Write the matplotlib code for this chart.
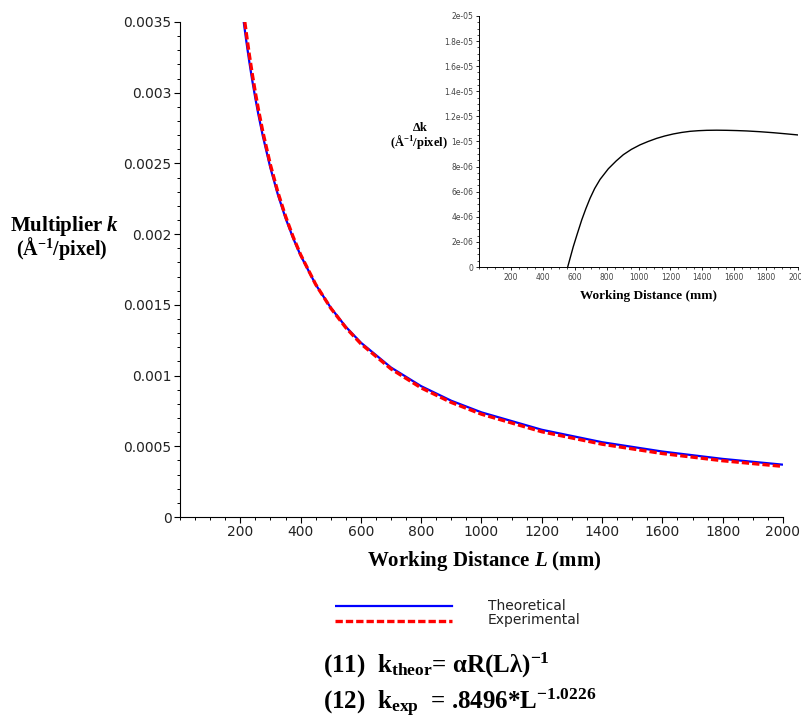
import numpy as np
import matplotlib
matplotlib.use('Agg')
import matplotlib.pyplot as plt
from matplotlib.ticker import FixedLocator, MultipleLocator, FixedFormatter

# ─── Data ───
# main plot: multiplier k vs working distance L (mm)
L_theor = [211, 220, 230, 240, 250, 260, 275, 300, 325, 350, 375, 400, 450, 500,
           550, 600, 700, 800, 900, 1000, 1200, 1400, 1600, 1800, 2000]
k_theor = [0.003507, 0.003364, 0.003217, 0.003083, 0.00296, 0.002846, 0.002691,
           0.002467, 0.002277, 0.002114, 0.001973, 0.00185, 0.001644, 0.00148,
           0.001345, 0.001233, 0.001057, 0.000925, 0.000822, 0.00074, 0.000617,
           0.000529, 0.000463, 0.000411, 0.00037]
L_exp = [215, 220, 230, 240, 250, 260, 275, 300, 325, 350, 375, 400, 450, 500,
         550, 600, 700, 800, 900, 1000, 1200, 1400, 1600, 1800, 2000]
k_exp = [0.0035, 0.003419, 0.003267, 0.003128, 0.003, 0.002882, 0.002721,
         0.002489, 0.002294, 0.002127, 0.001982, 0.001855, 0.001645, 0.001477,
         0.001339, 0.001225, 0.001047, 0.000913, 0.00081, 0.000727, 0.000603,
         0.000515, 0.000449, 0.000398, 0.000358]

# inset: delta k vs working distance
L_dk = [556, 575, 591, 615, 644, 670, 696, 725, 759, 811, 860, 905, 955, 1009,
        1060, 1114, 1165, 1218, 1270, 1323, 1375, 1428, 1490, 1553, 1615, 1678,
        1760, 1845, 1925, 2000]
dk = [0.0, 0.88e-6, 1.62e-6, 2.6e-6, 3.75e-6, 4.65e-6, 5.47e-6, 6.25e-6, 6.98e-6,
      7.83e-6, 8.45e-6, 8.95e-6, 9.37e-6, 9.73e-6, 10.0e-6, 10.25e-6, 10.44e-6,
      10.6e-6, 10.72e-6, 10.81e-6, 10.86e-6, 10.89e-6, 10.9e-6, 10.89e-6,
      10.87e-6, 10.84e-6, 10.78e-6, 10.7e-6, 10.61e-6, 10.52e-6]

main_yticks = [0, 0.0005, 0.001, 0.0015, 0.002, 0.0025, 0.003, 0.0035]
main_ylabels = ['0', '0.0005', '0.001', '0.0015', '0.002', '0.0025', '0.003', '0.0035']
main_xticks = [200, 400, 600, 800, 1000, 1200, 1400, 1600, 1800, 2000]
inset_yticks = [0, 2e-6, 4e-6, 6e-6, 8e-6, 1e-5, 1.2e-5, 1.4e-5, 1.6e-5, 1.8e-5, 2e-5]
inset_ylabels = ['0', '2e-06', '4e-06', '6e-06', '8e-06', '1e-05', '1.2e-05',
                 '1.4e-05', '1.6e-05', '1.8e-05', '2e-05']

TICKFONT = 'DejaVu Sans'
plt.rcParams['mathtext.fontset'] = 'custom'
plt.rcParams['mathtext.rm'] = 'Liberation Serif:bold'
plt.rcParams['mathtext.it'] = 'Liberation Serif:italic:bold'
plt.rcParams['mathtext.bf'] = 'Liberation Serif:bold'
SERIF = 'Liberation Serif'

fig = plt.figure(figsize=(8.01, 7.23), dpi=100)

# ─── Main axes ───
ax = fig.add_axes([0.2247, 0.2849, 0.7528, 0.6847])
ax.plot(L_theor, k_theor, color='#0000ff', lw=1.6, solid_capstyle='butt')
ax.plot(L_exp, k_exp, color='#ff0000', lw=2.4, ls=(0, (2.2, 0.9)))
ax.set_xlim(0, 2000)
ax.set_ylim(0, 0.0035)
for s in ['top', 'right']:
    ax.spines[s].set_visible(False)
ax.yaxis.set_major_locator(FixedLocator(main_yticks))
ax.yaxis.set_major_formatter(FixedFormatter(main_ylabels))
ax.yaxis.set_minor_locator(MultipleLocator(0.0001))
ax.xaxis.set_major_locator(FixedLocator(main_xticks))
ax.xaxis.set_minor_locator(MultipleLocator(50))
ax.tick_params(which='major', length=4, width=0.8, labelsize=10, pad=2,
               labelcolor='#222222')
ax.tick_params(which='minor', length=2.5, width=0.7)
for lab in ax.get_xticklabels() + ax.get_yticklabels():
    lab.set_family(TICKFONT)

fig.text(0.605, 1 - 561 / 723, 'Working Distance $\\mathit{L}$ (mm)',
         ha='center', va='center', fontsize=15, family=SERIF, weight='bold')
fig.text(65 / 801, 1 - 226 / 723, 'Multiplier $\\mathit{k}$',
         ha='center', va='center', fontsize=15, family=SERIF, weight='bold')
fig.text(62 / 801, 1 - 249 / 723, '(Å$^{-1}$/pixel)',
         ha='center', va='center', fontsize=14.5, family=SERIF, weight='bold')

# ─── Inset ───
ins = fig.add_axes([0.598, 0.6307, 0.3983, 0.3472])
ins.plot(L_dk, dk, color='black', lw=1.0)
ins.set_xlim(0, 2000)
ins.set_ylim(0, 2e-5)
for s in ['top', 'right']:
    ins.spines[s].set_visible(False)
ins.patch.set_alpha(0)
ins.yaxis.set_major_locator(FixedLocator(inset_yticks))
ins.yaxis.set_major_formatter(FixedFormatter(inset_ylabels))
ins.yaxis.set_minor_locator(MultipleLocator(5e-7))
ins.xaxis.set_major_locator(FixedLocator(main_xticks))
ins.xaxis.set_minor_locator(MultipleLocator(50))
ins.tick_params(which='major', length=2.5, width=0.6, labelsize=5.5, pad=1.5,
                labelcolor='#444444')
ins.tick_params(which='minor', length=1.5, width=0.5)
for s in ['left', 'bottom']:
    ins.spines[s].set_linewidth(0.7)
for lab in ins.get_xticklabels() + ins.get_yticklabels():
    lab.set_family(TICKFONT)

fig.text(648 / 801, 1 - 296 / 723, 'Working Distance (mm)',
         ha='center', va='center', fontsize=9.5, family=SERIF, weight='bold')
fig.text(420 / 801, 1 - 128 / 723, 'Δk',
         ha='center', va='center', fontsize=9, family=SERIF, weight='bold')
fig.text(419 / 801, 1 - 142 / 723, '(Å$^{-1}$/pixel)',
         ha='center', va='center', fontsize=9, family=SERIF, weight='bold')

# ─── Legend (drawn below the plot) ───
leg = fig.add_axes([335 / 801, 1 - 628 / 723, 120 / 801, 30 / 723])
leg.set_xlim(0, 1)
leg.set_ylim(0, 1)
leg.axis('off')
leg.plot([0.0, 0.975], [0.73, 0.73], color='#0000ff', lw=1.6)
leg.plot([0.0, 0.975], [0.23, 0.23], color='#ff0000', lw=2.4, ls=(0, (2.2, 0.9)))
fig.text(488 / 801, 1 - 606 / 723, 'Theoretical', ha='left', va='center',
         fontsize=10, family=TICKFONT, color='#222222')
fig.text(488 / 801, 1 - 620 / 723, 'Experimental', ha='left', va='center',
         fontsize=10, family=TICKFONT, color='#222222')

# ─── Equations ───
fig.text(323 / 801, 1 - 673 / 723,
         '(11)  k$_{\\mathrm{theor}}$= αR(Lλ)$^{\\mathrm{-1}}$',
         ha='left', va='baseline', fontsize=18, family=SERIF, weight='bold')
fig.text(323 / 801, 1 - 709 / 723,
         '(12)  k$_{\\mathrm{exp}}$  = .8496*L$^{\\mathrm{-1.0226}}$',
         ha='left', va='baseline', fontsize=18, family=SERIF, weight='bold')

fig.savefig('out.png', dpi=100)
